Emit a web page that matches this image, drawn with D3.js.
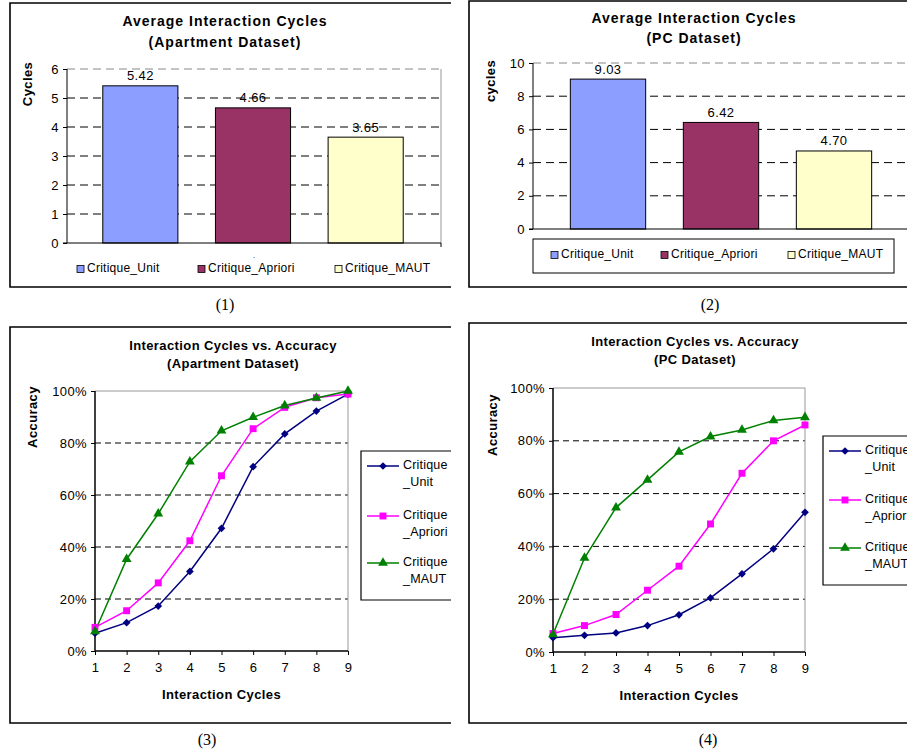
<!DOCTYPE html>
<html><head><meta charset="utf-8">
<script src="https://cdn.jsdelivr.net/npm/d3@7"></script>
<style>
body{margin:0;background:#fff;}
svg{display:block;font-family:"Liberation Sans",Arial,sans-serif;}
</style></head>
<body>
<svg id="c" width="907" height="755"></svg>
<script>
// ---- data ----
const seriesNames = ["Critique_Unit", "Critique_Apriori", "Critique_MAUT"];
const legendLines1 = [["Critique", "_Unit"], ["Critique", "_Apriori"], ["Critique", "_MAUT"]];
const barColors = ["#8C9EFF", "#993366", "#FFFFCC"];
const lineColors = ["#000080", "#FF00FF", "#008000"];

const aptCycles = [5.42, 4.66, 3.65];
const pcCycles = [9.03, 6.42, 4.70];
const aptCycleTicks = [0, 1, 2, 3, 4, 5, 6];
const pcCycleTicks = [0, 2, 4, 6, 8, 10];

const cycles = [1, 2, 3, 4, 5, 6, 7, 8, 9];
const aptUnit    = [6.8, 10.9, 17.3, 30.6, 47.2, 70.9, 83.5, 92.3, 98.8];
const aptApriori = [9.1, 15.5, 26.2, 42.4, 67.4, 85.5, 93.7, 97.4, 98.8];
const aptMAUT    = [7.5, 35.3, 52.8, 72.8, 84.7, 89.9, 94.4, 97.3, 100];
const pcUnit     = [5.4, 6.3, 7.2, 10.0, 14.1, 20.5, 29.6, 39.1, 52.9];
const pcApriori  = [7.0, 10.0, 14.2, 23.4, 32.5, 48.5, 67.7, 80.0, 86.0];
const pcMAUT     = [6.7, 35.6, 54.7, 65.2, 75.8, 81.6, 84.1, 87.7, 88.9];
const accTicks = [0, 20, 40, 60, 80, 100];

const svg = d3.select("#c");

function frame(x0, xEnd, y0, y1) {
  svg.append("path")
    .attr("d", `M${xEnd},${y0}H${x0}V${y1}H${xEnd}`)
    .attr("fill", "none").attr("stroke", "#000").attr("stroke-width", 1.6);
}
function caption(text, x, y) {
  svg.append("text").attr("x", x).attr("y", y).attr("text-anchor", "middle")
    .attr("font-family", "'Liberation Serif','Times New Roman',serif").attr("font-size", 16)
    .text(text);
}
function titles(lines, cx, ys, size, sp) {
  lines.forEach((t, i) => svg.append("text").attr("x", cx).attr("y", ys[i])
    .attr("text-anchor", "middle").attr("font-weight", "bold").attr("font-size", size)
    .attr("letter-spacing", sp).attr("dominant-baseline", "middle").text(t));
}
function yLabel(t, x, y) {
  svg.append("text").attr("transform", `translate(${x},${y}) rotate(-90)`)
    .attr("text-anchor", "middle").attr("dominant-baseline", "middle")
    .attr("font-weight", "bold").attr("font-size", 13).attr("letter-spacing", 0.4).text(t);
}
function styleTicks(sel) {
  sel.selectAll("text").attr("font-size", 13).attr("letter-spacing", 0.4)
    .attr("font-family", "'Liberation Sans',Arial,sans-serif").attr("fill", "#000");
  sel.selectAll(".tick line").attr("stroke", "#000");
}

function barChart(cfg) {
  const y = d3.scaleLinear().domain([0, d3.max(cfg.ticks)]).range([cfg.y0, cfg.y1]);
  const x = d3.scaleBand().domain(seriesNames).range(cfg.band).paddingInner(1/3).paddingOuter(1/6);
  const g = svg.append("g");
  cfg.ticks.forEach(t => {
    if (t === 0) return;
    const top = t === d3.max(cfg.ticks);
    g.append("line").attr("x1", cfg.x0).attr("x2", cfg.x1).attr("y1", y(t)).attr("y2", y(t))
      .attr("stroke", top ? "#888" : "#000").attr("stroke-width", 1)
      .attr("stroke-dasharray", "8,5");
  });
  if (cfg.rightBorder) g.append("line").attr("x1", cfg.x1).attr("x2", cfg.x1).attr("y1", cfg.y1).attr("y2", cfg.y0)
    .attr("stroke", "#999");
  g.selectAll("rect.bar").data(cfg.values).join("rect")
    .attr("x", (d, i) => x(seriesNames[i])).attr("width", x.bandwidth())
    .attr("y", d => y(d)).attr("height", d => y(0) - y(d))
    .attr("fill", (d, i) => barColors[i]).attr("stroke", "#000").attr("stroke-width", 1);
  g.selectAll("text.val").data(cfg.values).join("text")
    .attr("x", (d, i) => x(seriesNames[i]) + x.bandwidth() / 2).attr("y", d => y(d) - 9)
    .attr("text-anchor", "middle").attr("dominant-baseline", "middle").attr("font-size", 13)
    .attr("letter-spacing", 0.4).text(d => d.toFixed(2));
  const ax = g.append("g").attr("transform", `translate(${cfg.x0},0)`)
    .call(d3.axisLeft(y).tickValues(cfg.ticks).tickSize(4).tickPadding(4).tickFormat(d3.format("d")));
  ax.select(".domain").attr("stroke", "#000").attr("d", `M0,${cfg.y1}V${cfg.y0}`);
  styleTicks(ax);
  g.append("line").attr("x1", cfg.x0 - 4).attr("x2", cfg.x1).attr("y1", cfg.y0).attr("y2", cfg.y0).attr("stroke", "#000");
  if (cfg.rightBorder) g.append("line").attr("x1", cfg.x1).attr("x2", cfg.x1).attr("y1", cfg.y0).attr("y2", cfg.y0 + 4).attr("stroke", "#000");
  if (cfg.legendBox) g.append("rect").attr("x", cfg.legendBox[0]).attr("y", cfg.legendBox[1])
    .attr("width", cfg.legendBox[2]).attr("height", cfg.legendBox[3]).attr("fill", "#fff").attr("stroke", "#000");
  cfg.legendX.forEach((lx, i) => {
    g.append("rect").attr("x", lx).attr("y", cfg.legendY - 3.5).attr("width", 7).attr("height", 7)
      .attr("fill", barColors[i]).attr("stroke", "#000").attr("stroke-width", 0.8);
    g.append("text").attr("x", lx + 10).attr("y", cfg.legendY).attr("dominant-baseline", "middle")
      .attr("font-size", 12).attr("letter-spacing", 0.25).text(seriesNames[i]);
  });
}

function lineChart(cfg) {
  const x = d3.scaleLinear().domain([1, 9]).range([cfg.x0, cfg.x1]);
  const y = d3.scaleLinear().domain([0, 100]).range([cfg.y0, cfg.y1]);
  const g = svg.append("g");
  accTicks.forEach(t => {
    if (t === 0 || t === 100) return;
    g.append("line").attr("x1", cfg.x0).attr("x2", cfg.x1).attr("y1", y(t)).attr("y2", y(t))
      .attr("stroke", "#000").attr("stroke-dasharray", "6,4");
  });
  g.append("path").attr("d", `M${cfg.x0},${y(100)}H${cfg.x1}V${cfg.y0}`).attr("fill", "none").attr("stroke", "#999");
  const ay = g.append("g").attr("transform", `translate(${cfg.x0},0)`)
    .call(d3.axisLeft(y).tickValues(accTicks).tickSize(4).tickPadding(4).tickFormat(d => d + "%"));
  ay.select(".domain").attr("d", `M0,${cfg.y1}V${cfg.y0}`).attr("stroke", "#000").attr("stroke-width", 1.5);
  styleTicks(ay);
  const axx = g.append("g").attr("transform", `translate(0,${cfg.y0})`)
    .call(d3.axisBottom(x).tickValues(cycles).tickSize(4).tickPadding(8).tickFormat(d3.format("d")));
  axx.select(".domain").attr("d", `M${cfg.x0},0H${cfg.x1}`).attr("stroke", "#000").attr("stroke-width", 1.5);
  styleTicks(axx);

  const symbols = [
    {type: d3.symbolSquare, size: 30, rot: 45},
    {type: d3.symbolSquare, size: 48, rot: 0},
    {type: d3.symbolTriangle, size: 42, rot: 0}
  ];
  const line = d3.line().x((d, i) => x(cycles[i])).y(d => y(d));
  cfg.series.forEach((vals, s) => {
    g.append("path").datum(vals).attr("d", line).attr("fill", "none")
      .attr("stroke", lineColors[s]).attr("stroke-width", 1.5);
  });
  cfg.series.forEach((vals, s) => {
    const sym = d3.symbol().type(symbols[s].type).size(symbols[s].size);
    g.selectAll(null).data(vals).join("path").attr("d", sym)
      .attr("transform", (d, i) => `translate(${x(cycles[i])},${y(d)}) rotate(${symbols[s].rot})`)
      .attr("fill", lineColors[s]);
  });
  const [lx, ly, lh, lEnd] = cfg.legend;
  g.append("path").attr("d", `M${lEnd},${ly}H${lx}V${ly + lh}H${lEnd}`).attr("fill", "none").attr("stroke", "#000").attr("stroke-width", 1.2);
  legendLines1.forEach((lines, s) => {
    const yy = cfg.legendRows[s];
    g.append("line").attr("x1", lx + 6).attr("x2", lx + 38).attr("y1", yy).attr("y2", yy)
      .attr("stroke", lineColors[s]).attr("stroke-width", 1.5);
    const sym = d3.symbol().type(symbols[s].type).size(symbols[s].size);
    g.append("path").attr("d", sym).attr("transform", `translate(${lx + 22},${yy}) rotate(${symbols[s].rot})`)
      .attr("fill", lineColors[s]);
    lines.forEach((t, k) => g.append("text").attr("x", lx + 42).attr("y", yy + k * 17)
      .attr("dominant-baseline", "middle").attr("font-size", 12.5).attr("letter-spacing", 0.2).text(t));
  });
  yLabel("Accuracy", cfg.yLabel[0], cfg.yLabel[1]);
  svg.append("text").attr("x", (cfg.x0 + cfg.x1) / 2).attr("y", cfg.xLabelY).attr("text-anchor", "middle")
    .attr("dominant-baseline", "middle").attr("font-weight", "bold").attr("font-size", 13)
    .attr("letter-spacing", 0.4).text("Interaction Cycles");
}

// Panel 1
frame(10, 451, 3, 287);
titles(["Average Interaction Cycles", "(Apartment Dataset)"], 225, [22, 43], 14, 1);
yLabel("Cycles", 29, 84);
barChart({values: aptCycles, ticks: aptCycleTicks, x0: 67, x1: 441, y0: 243, y1: 69,
  band: [84, 422], legendX: [77, 198, 335], legendY: 269, rightBorder: true});
svg.append("text").attr("x", 254).attr("y", 258).attr("font-size", 8).attr("text-anchor", "middle").text(".");
caption("(1)", 225, 310);

// Panel 2
frame(469, 910, 1, 287);
titles(["Average Interaction Cycles", "(PC Dataset)"], 694, [19, 39], 14, 1);
yLabel("cycles", 492, 81);
barChart({values: pcCycles, ticks: pcCycleTicks, x0: 533, x1: 907, y0: 229, y1: 63,
  band: [551.5, 890.5], legendBox: [533, 239, 361, 34], legendX: [551, 661, 788], legendY: 255, rightBorder: false});
caption("(2)", 710, 310);

// Panel 3
frame(10, 451, 327, 723);
titles(["Interaction Cycles vs. Accuracy", "(Apartment Dataset)"], 233, [347, 365], 13, 0.4);
lineChart({series: [aptUnit, aptApriori, aptMAUT], x0: 95, x1: 348, y0: 651, y1: 391,
  legend: [361, 451, 149, 451], legendRows: [466, 516, 563], yLabel: [34, 417], xLabelY: 696});
caption("(3)", 207, 745);

// Panel 4
frame(469, 910, 323, 723);
titles(["Interaction Cycles vs. Accuracy", "(PC Dataset)"], 695, [343, 361], 13, 0.4);
lineChart({series: [pcUnit, pcApriori, pcMAUT], x0: 553, x1: 805, y0: 652, y1: 388,
  legend: [823, 436, 149, 910], legendRows: [451, 500, 548], yLabel: [494, 425], xLabelY: 697});
caption("(4)", 708, 745);
</script>
</body></html>
